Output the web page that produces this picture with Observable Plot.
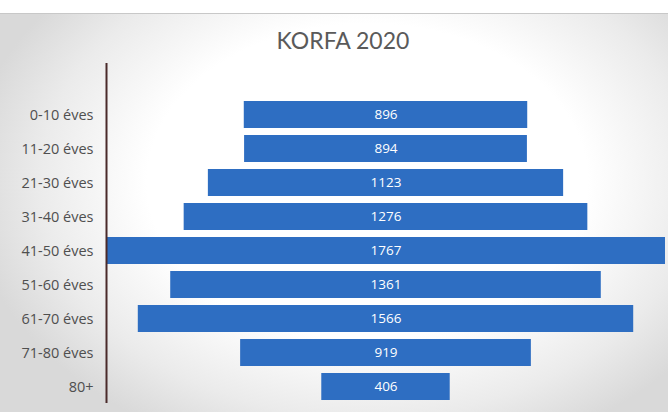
<!DOCTYPE html>
<html>
<head>
<meta charset="utf-8">
<script src="https://cdn.jsdelivr.net/npm/d3@7"></script>
<script src="https://cdn.jsdelivr.net/npm/@observablehq/plot@0.6"></script>
<style>
  html, body { margin: 0; padding: 0; background: #fff; }
  #wrap {
    position: relative; width: 668px; height: 412px; overflow: hidden;
    background: #fff;
  }
  #panel {
    position: absolute; left: 0; top: 13px; width: 668px; height: 399px;
    border-top: 1px solid #c8c8c8;
    background: radial-gradient(ellipse 60% 72% at 55% 42%, #ffffff 55%, #ebebeb 82%, #d9d9d9 100%);
  }
  #title {
    position: absolute; left: 0; top: 0; width: 668px; height: 55px;
    text-align: center; font-family: Lato, "Open Sans", sans-serif; font-size: 23px;
    color: #5a5a5a; line-height: 80px; padding-left: 18px; box-sizing: border-box;
  }
  #chart { position: absolute; left: 0; top: 55px; }
</style>
</head>
<body>
<div id="wrap">
  <div id="panel"></div>
  <div id="title">KORFA 2020</div>
  <div id="chart"></div>
</div>
<script>
const ageGroups = ["0-10 éves", "11-20 éves", "21-30 éves", "31-40 éves", "41-50 éves", "51-60 éves", "61-70 éves", "71-80 éves", "80+"];
const population = [896, 894, 1123, 1276, 1767, 1361, 1566, 919, 406];

const data = ageGroups.map((a, i) => ({age: a, value: population[i]}));
const maxVal = d3.max(population);

const chart = Plot.plot({
  width: 668,
  height: 357,
  marginLeft: 106,
  marginRight: 3,
  marginTop: 8,
  marginBottom: 9,
  style: {background: "transparent", fontFamily: "'Open Sans', Lato, sans-serif"},
  x: {domain: [-maxVal / 2, maxVal / 2], axis: null},
  y: {domain: ageGroups, range: [41.6, 349.4], paddingInner: 0.2, paddingOuter: 0.1, label: null},
  marks: [
    Plot.axisY({tickSize: 0, tickPadding: 13, fontSize: 14.5, color: "#4f4f4f"}),
    Plot.barX(data, {x1: d => -d.value / 2, x2: d => d.value / 2, y: "age", fill: "#2e6ec2"}),
    Plot.text(data, {x: 0, y: "age", text: d => String(d.value), fill: "white", fontSize: 13.5, fontWeight: 500}),
    Plot.ruleX([-maxVal / 2], {stroke: "#4a2a2a", strokeWidth: 2})
  ]
});
document.getElementById("chart").appendChild(chart);
</script>
</body>
</html>
